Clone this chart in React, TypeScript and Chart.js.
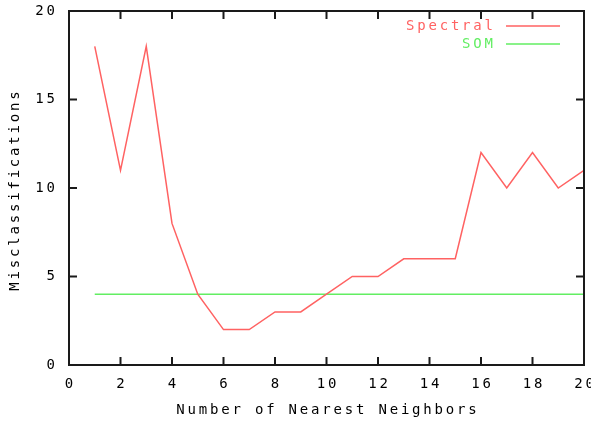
import React, { useEffect, useRef } from "react";
import { Chart, registerables } from "chart.js";

Chart.register(...registerables);

const neighbors = [1, 2, 3, 4, 5, 6, 7, 8, 9, 10, 11, 12, 13, 14, 15, 16, 17, 18, 19, 20];
const spectral = [18, 11, 18, 8, 4, 2, 2, 3, 3, 4, 5, 5, 6, 6, 6, 12, 10, 12, 10, 11];
const som = [4, 4, 4, 4, 4, 4, 4, 4, 4, 4, 4, 4, 4, 4, 4, 4, 4, 4, 4, 4];
const seriesNames = ["Spectral", "SOM"];
const seriesColors = ["#ff6262", "#62ee62"];
const xTicks = [0, 2, 4, 6, 8, 10, 12, 14, 16, 18, 20];
const yTicks = [0, 5, 10, 15, 20];
const xTitle = "Number of Nearest Neighbors";
const yTitle = "Misclassifications";

const FONT = '14px "DejaVu Sans Mono", "Liberation Mono", monospace';
const SPACING = 2.8;

const gnuplotFrame = {
  id: "gnuplotFrame",
  afterDraw(chart: any) {
    const { ctx, chartArea } = chart;
    const { left, right, top, bottom } = chartArea;
    const xs = chart.scales.x;
    const ys = chart.scales.y;
    ctx.save();
    ctx.strokeStyle = "#1a1a1a";
    ctx.lineWidth = 2;
    ctx.strokeRect(left, top, right - left, bottom - top);
    const tl = 8;
    ctx.beginPath();
    xTicks.forEach((v) => {
      const px = xs.getPixelForValue(v);
      ctx.moveTo(px, bottom);
      ctx.lineTo(px, bottom - tl);
      ctx.moveTo(px, top);
      ctx.lineTo(px, top + tl);
    });
    yTicks.forEach((v) => {
      const py = ys.getPixelForValue(v);
      ctx.moveTo(left, py);
      ctx.lineTo(left + tl, py);
      ctx.moveTo(right, py);
      ctx.lineTo(right - tl, py);
    });
    ctx.stroke();

    ctx.font = FONT;
    (ctx as any).letterSpacing = SPACING + "px";
    ctx.fillStyle = "#000";
    ctx.textBaseline = "middle";
    ctx.textAlign = "center";
    xTicks.forEach((v) => {
      ctx.fillText(String(v), xs.getPixelForValue(v) + SPACING / 2, 384);
    });
    ctx.textAlign = "right";
    yTicks.forEach((v) => {
      ctx.fillText(String(v), 55 + SPACING, ys.getPixelForValue(v));
    });
    ctx.textAlign = "center";
    ctx.fillText(xTitle, (left + right) / 2 + SPACING / 2, 410);
    ctx.save();
    ctx.translate(15, 191);
    ctx.rotate(-Math.PI / 2);
    ctx.fillText(yTitle, SPACING / 2, 0);
    ctx.restore();

    // legend
    const legendY = [26, 44];
    seriesNames.forEach((name, i) => {
      ctx.fillStyle = seriesColors[i];
      ctx.textAlign = "right";
      ctx.fillText(name, 493 + SPACING, legendY[i]);
      ctx.strokeStyle = seriesColors[i];
      ctx.lineWidth = 1.5;
      ctx.beginPath();
      ctx.moveTo(506, legendY[i]);
      ctx.lineTo(560, legendY[i]);
      ctx.stroke();
    });
    ctx.restore();
  },
};

export default function App() {
  const ref = useRef<HTMLCanvasElement | null>(null);
  useEffect(() => {
    document.body.style.margin = "0";
    if (!ref.current) return;
    const chart = new Chart(ref.current, {
      type: "line",
      data: {
        datasets: [
          {
            label: seriesNames[0],
            data: neighbors.map((n, i) => ({ x: n, y: spectral[i] })),
            borderColor: seriesColors[0],
            borderWidth: 1.5,
            pointRadius: 0,
            tension: 0,
            fill: false,
          },
          {
            label: seriesNames[1],
            data: neighbors.map((n, i) => ({ x: n, y: som[i] })),
            borderColor: seriesColors[1],
            borderWidth: 1.5,
            pointRadius: 0,
            tension: 0,
            fill: false,
          },
        ],
      },
      options: {
        animation: false,
        responsive: true,
        maintainAspectRatio: false,
        layout: { padding: { left: 69, right: 7, top: 11, bottom: 56 } },
        plugins: { legend: { display: false }, tooltip: { enabled: false } },
        scales: {
          x: { type: "linear", min: 0, max: 20, display: false },
          y: { type: "linear", min: 0, max: 20, display: false },
        },
      },
      plugins: [gnuplotFrame],
    });
    return () => chart.destroy();
  }, []);
  return (
    <div style={{ width: 591, height: 421, position: "relative" }}>
      <canvas ref={ref} />
    </div>
  );
}
